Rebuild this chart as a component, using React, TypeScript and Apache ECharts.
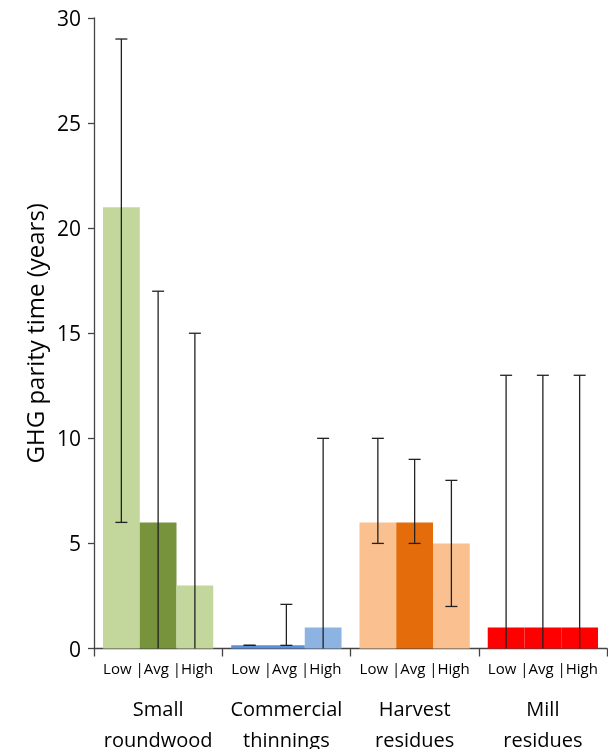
import { useEffect, useRef } from 'react'
import * as echarts from 'echarts'

const groups = ['Small\nroundwood', 'Commercial\nthinnings', 'Harvest\nresidues', 'Mill\nresidues']
const levels = ['Low', 'Avg', 'High']
// values[level][group]
const values = [
  [21, 0.15, 6, 1],
  [6, 0.15, 6, 1],
  [3, 1, 5, 1],
]
const errLow = [
  [6, 0.15, 5, 0],
  [0, 0.15, 5, 0],
  [0, 0, 2, 0],
]
const errHigh = [
  [29, 0.15, 10, 13],
  [17, 2.1, 9, 13],
  [15, 10, 8, 13],
]
const colors = [
  ['#c3d69b', '#5b8fd6', '#fac090', '#ff0000'],
  ['#77933c', '#5b8fd6', '#e46c0a', '#ff0000'],
  ['#c3d69b', '#8db3e2', '#fac090', '#ff0000'],
]
const FONT = '"Open Sans", "Noto Sans", sans-serif'
const CAT_GAP = 0.14

export default function App() {
  const ref = useRef<HTMLDivElement | null>(null)
  useEffect(() => {
    if (!ref.current) return
    const chart = echarts.init(ref.current, null, { renderer: 'svg' })
    const barSeries = levels.map((lv, j) => ({
      type: 'bar',
      name: lv,
      barGap: '0%',
      barCategoryGap: CAT_GAP * 100 + '%',
      data: values[j].map((v, i) => ({ value: v, itemStyle: { color: colors[j][i] } })),
      z: 2,
    }))
    const errSeries = levels.map((lv, j) => ({
      type: 'custom',
      name: lv + ' err',
      z: 5,
      data: groups.map((_, i) => [i, errLow[j][i], errHigh[j][i]]),
      renderItem: (params: any, api: any) => {
        const i = api.value(0)
        const lo = api.coord([i, api.value(1)])
        const hi = api.coord([i, api.value(2)])
        const band = api.size([1, 0])[0]
        const bw = (band * (1 - CAT_GAP)) / 3
        const x = lo[0] + (j - 1) * bw
        const cap = 6
        const st = { stroke: '#222', lineWidth: 1.3 }
        const children: any[] = [
          { type: 'line', shape: { x1: x, y1: lo[1], x2: x, y2: hi[1] }, style: st },
          { type: 'line', shape: { x1: x - cap, y1: hi[1], x2: x + cap, y2: hi[1] }, style: st },
        ]
        if (api.value(1) > 0)
          children.push({ type: 'line', shape: { x1: x - cap, y1: lo[1], x2: x + cap, y2: lo[1] }, style: st })
        return { type: 'group', children }
      },
    }))
    chart.setOption({
      animation: false,
      textStyle: { fontFamily: FONT },
      grid: { left: 94, right: 1, top: 18, bottom: 98 },
      xAxis: {
        type: 'category',
        data: groups,
        axisLine: { lineStyle: { color: '#444', width: 1.3 } },
        axisTick: { show: true, length: 8, lineStyle: { color: '#444', width: 1.3 } },
        axisLabel: {
          interval: 0,
          margin: 12,
          formatter: (v: string) => {
            const [a, b] = v.split('\n')
            return `{s|Low |Avg |High}\n{b|${a}}\n{b|${b}}`
          },
          rich: {
            s: { fontSize: 15, color: '#000', fontFamily: FONT, lineHeight: 32, verticalAlign: 'top' },
            b: { fontSize: 20, color: '#000', fontFamily: FONT, lineHeight: 31 },
          },
        },
      },
      yAxis: {
        type: 'value',
        min: 0,
        max: 30,
        interval: 5,
        name: 'GHG parity time (years)',
        nameLocation: 'middle',
        nameGap: 48,
        nameTextStyle: { fontSize: 24, color: '#000', fontFamily: FONT },
        axisLine: { show: true, lineStyle: { color: '#444', width: 1.3 } },
        axisTick: { show: true, length: 6, lineStyle: { color: '#444', width: 1.3 } },
        axisLabel: { fontSize: 21, color: '#000', margin: 13, fontFamily: FONT },
        splitLine: { show: false },
      },
      series: [...barSeries, ...errSeries],
    })
    return () => chart.dispose()
  }, [])
  return <div ref={ref} style={{ position: 'fixed', left: 0, top: 0, width: 608, height: 749 }} />
}
